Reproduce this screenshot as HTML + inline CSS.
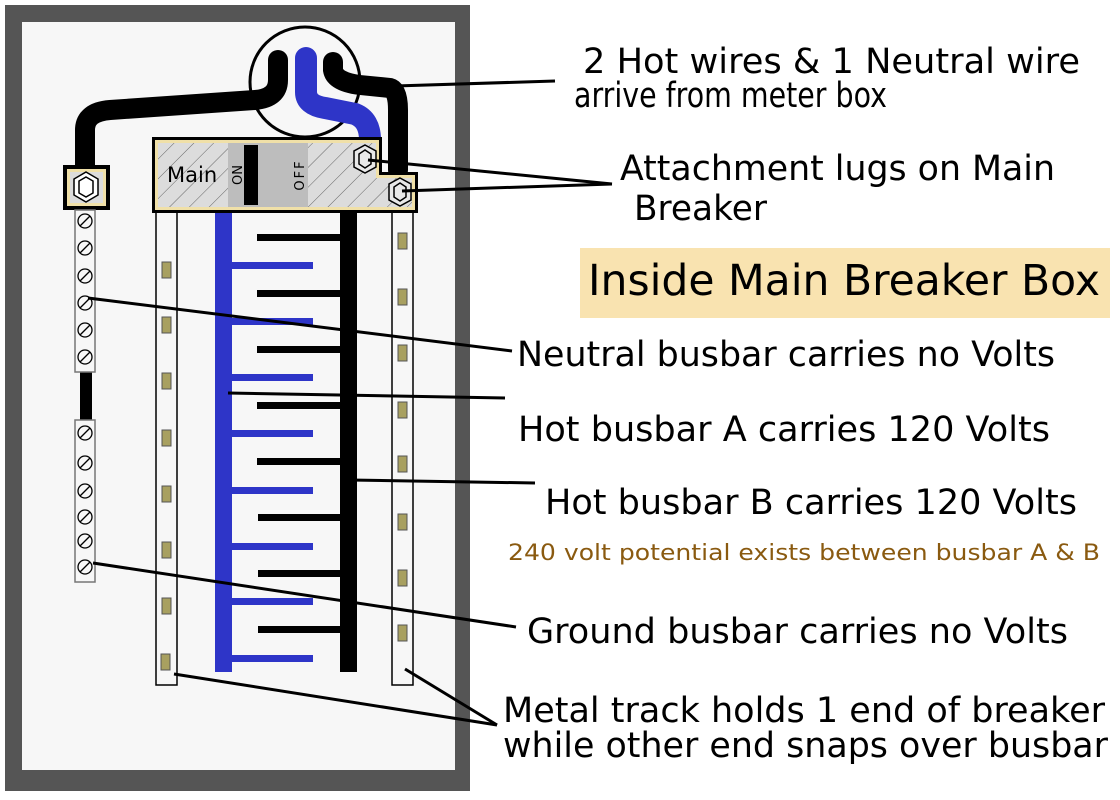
<!DOCTYPE html>
<html><head><meta charset="utf-8"><style>
html,body{margin:0;padding:0;background:#fff;}
svg{display:block;}
text{font-family:"DejaVu Sans","Liberation Sans",sans-serif;fill:#000;}
</style></head><body>
<svg width="1120" height="800" viewBox="0 0 1120 800" xmlns="http://www.w3.org/2000/svg">
<defs>
<pattern id="hatch" width="14" height="14" patternUnits="userSpaceOnUse" patternTransform="rotate(45)">
<rect width="14" height="14" fill="#dcdcdc"/><line x1="0" y1="0" x2="0" y2="14" stroke="#666" stroke-width="1"/>
</pattern>
</defs>
<rect x="0" y="0" width="1120" height="800" fill="#fff"/>
<rect x="5" y="5" width="465" height="786" fill="#555"/>
<rect x="22" y="22" width="433" height="748" fill="#f7f7f7"/>

<!-- wires -->
<circle cx="305" cy="82" r="55" fill="#f7f7f7" stroke="#000" stroke-width="3"/>
<path d="M85 168 L85 130 Q85 112 110 110 L255 100 Q278 98 278 80 L278 60" fill="none" stroke="#000" stroke-width="20" stroke-linecap="round"/>
<path d="M306 58 L306 92 Q306 105 325 108 L355 114 Q370 120 370 140" fill="none" stroke="#2e35c8" stroke-width="22" stroke-linecap="round"/>
<path d="M333 62 L333 70 Q335 82 360 85 L390 88 Q398 90 398 110 L398 170" fill="none" stroke="#000" stroke-width="20" stroke-linecap="round"/>

<!-- tracks -->
<rect x="156" y="205" width="21" height="480" fill="#f7f7f7" stroke="#000" stroke-width="1.5"/>
<rect x="392" y="205" width="21" height="480" fill="#f7f7f7" stroke="#000" stroke-width="1.5"/>
<g fill="#a8a060" stroke="#555" stroke-width="1">
<rect x="162" y="262" width="9" height="16"/><rect x="162" y="317" width="9" height="16"/><rect x="162" y="373" width="9" height="16"/><rect x="162" y="430" width="9" height="16"/><rect x="162" y="486" width="9" height="16"/><rect x="162" y="542" width="9" height="16"/><rect x="162" y="598" width="9" height="16"/><rect x="161" y="654" width="9" height="16"/>
<rect x="398" y="233" width="9" height="16"/><rect x="398" y="289" width="9" height="16"/><rect x="398" y="345" width="9" height="16"/><rect x="398" y="402" width="9" height="16"/><rect x="398" y="456" width="9" height="16"/><rect x="398" y="514" width="9" height="16"/><rect x="398" y="570" width="9" height="16"/><rect x="398" y="625" width="9" height="16"/>
</g>

<!-- busbars -->
<rect x="215" y="205" width="17" height="467" fill="#2e35c8"/>
<g fill="#2e35c8">
<rect x="232" y="262" width="81" height="7"/><rect x="232" y="318" width="81" height="7"/><rect x="232" y="374" width="81" height="7"/><rect x="232" y="430" width="81" height="7"/><rect x="232" y="487" width="81" height="7"/><rect x="232" y="543" width="81" height="7"/><rect x="232" y="598" width="81" height="7"/><rect x="232" y="655" width="81" height="7"/>
</g>
<rect x="340" y="205" width="17" height="467" fill="#000"/>
<g fill="#000">
<rect x="257" y="234" width="83" height="7"/><rect x="257" y="290" width="83" height="7"/><rect x="257" y="346" width="83" height="7"/><rect x="257" y="402" width="83" height="7"/><rect x="257" y="458" width="83" height="7"/><rect x="258" y="514" width="82" height="7"/><rect x="258" y="570" width="82" height="7"/><rect x="258" y="626" width="82" height="7"/>
</g>

<!-- main breaker -->
<path d="M152 137 L382 137 L382 172 L418 172 L418 213 L152 213 Z" fill="#000"/>
<path d="M155 140 L379 140 L379 175 L415 175 L415 210 L155 210 Z" fill="#f0e0a8"/>
<path d="M158 143 L376 143 L376 178 L412 178 L412 207 L158 207 Z" fill="url(#hatch)"/>
<rect x="228" y="143" width="80" height="64" fill="#bdbdbd"/>
<rect x="244" y="145" width="14" height="60" fill="#000"/>
<text x="167" y="182" font-size="21">Main</text>
<text x="0" y="0" font-size="13" transform="translate(242 175) rotate(-90)" text-anchor="middle">ON</text>
<text x="0" y="0" font-size="13" transform="translate(304 175) rotate(-90)" text-anchor="middle" letter-spacing="2">OFF</text>
<g fill="none" stroke="#000" stroke-width="1.5">
<polygon points="365,145 376,151 376,167 365,173 354,167 354,151" fill="#e8e8e8"/>
<polygon points="365,150 371,154 371,164 365,168 359,164 359,154"/>
<polygon points="400,178 411,184 411,200 400,206 389,200 389,184" fill="#e8e8e8"/>
<polygon points="400,183 406,187 406,197 400,201 394,197 394,187"/>
</g>

<!-- neutral lug + bars -->
<rect x="63" y="165" width="47" height="45" fill="#000"/>
<rect x="67" y="169" width="39" height="37" fill="#f0e0a8"/>
<rect x="70" y="172" width="33" height="31" fill="#dcdcdc"/>
<g fill="none" stroke="#000" stroke-width="1.5">
<polygon points="86,172 98,179 98,195 86,202 74,195 74,179" fill="#fff"/>
<polygon points="86,177 93,181 93,193 86,197 79,193 79,181"/>
</g>
<rect x="80" y="370" width="12" height="52" fill="#000"/>
<rect x="75" y="210" width="20" height="162" fill="#f7f7f7" stroke="#777" stroke-width="1.5"/>
<rect x="75" y="420" width="20" height="162" fill="#f7f7f7" stroke="#777" stroke-width="1.5"/>
<g fill="none" stroke="#000" stroke-width="1.3">
<circle cx="85" cy="221" r="7"/><line x1="80" y1="226" x2="90" y2="216"/>
<circle cx="85" cy="248" r="7"/><line x1="80" y1="253" x2="90" y2="243"/>
<circle cx="85" cy="276" r="7"/><line x1="80" y1="281" x2="90" y2="271"/>
<circle cx="85" cy="303" r="7"/><line x1="80" y1="308" x2="90" y2="298"/>
<circle cx="85" cy="330" r="7"/><line x1="80" y1="335" x2="90" y2="325"/>
<circle cx="85" cy="357" r="7"/><line x1="80" y1="362" x2="90" y2="352"/>
<circle cx="85" cy="433" r="7"/><line x1="80" y1="438" x2="90" y2="428"/>
<circle cx="85" cy="463" r="7"/><line x1="80" y1="468" x2="90" y2="458"/>
<circle cx="85" cy="491" r="7"/><line x1="80" y1="496" x2="90" y2="486"/>
<circle cx="85" cy="517" r="7"/><line x1="80" y1="522" x2="90" y2="512"/>
<circle cx="85" cy="541" r="7"/><line x1="80" y1="546" x2="90" y2="536"/>
<circle cx="85" cy="567" r="7"/><line x1="80" y1="572" x2="90" y2="562"/>
</g>

<!-- leaders -->
<g stroke="#000" stroke-width="3" fill="none">
<line x1="395" y1="86" x2="555" y2="81"/>
<line x1="368" y1="160" x2="612" y2="184"/>
<line x1="402" y1="191" x2="612" y2="184"/>
<line x1="88" y1="298" x2="512" y2="351"/>
<line x1="228" y1="393" x2="505" y2="398"/>
<line x1="350" y1="480" x2="535" y2="483"/>
<line x1="93" y1="563" x2="516" y2="627"/>
<line x1="174" y1="674" x2="497" y2="725"/>
<line x1="405" y1="669" x2="497" y2="725"/>
</g>

<!-- labels -->
<g font-size="35">
<text x="583" y="73" textLength="497" lengthAdjust="spacingAndGlyphs">2 Hot wires &amp; 1 Neutral wire</text>
<text x="574" y="107" textLength="313" lengthAdjust="spacingAndGlyphs">arrive from meter box</text>
<text x="620" y="180" textLength="435" lengthAdjust="spacingAndGlyphs">Attachment lugs on Main</text>
<text x="634" y="220" textLength="133" lengthAdjust="spacingAndGlyphs">Breaker</text>
<text x="517" y="366" textLength="538" lengthAdjust="spacingAndGlyphs">Neutral busbar carries no Volts</text>
<text x="518" y="441" textLength="532" lengthAdjust="spacingAndGlyphs">Hot busbar A carries 120 Volts</text>
<text x="545" y="514" textLength="532" lengthAdjust="spacingAndGlyphs">Hot busbar B carries 120 Volts</text>
<text x="527" y="643" textLength="541" lengthAdjust="spacingAndGlyphs">Ground busbar carries no Volts</text>
<text x="503" y="722" textLength="602" lengthAdjust="spacingAndGlyphs">Metal track holds 1 end of breaker</text>
<text x="503" y="757" textLength="605" lengthAdjust="spacingAndGlyphs">while other end snaps over busbar</text>
</g>
<rect x="580" y="248" width="530" height="70" fill="#f9e3b0"/>
<text x="588" y="295" font-size="43" textLength="512" lengthAdjust="spacingAndGlyphs">Inside Main Breaker Box</text>
<text x="508" y="560" font-size="22" fill="#8a5a10" style="fill:#8a5a10" textLength="592" lengthAdjust="spacingAndGlyphs">240 volt potential exists between busbar A &amp; B</text>
</svg>
</body></html>
